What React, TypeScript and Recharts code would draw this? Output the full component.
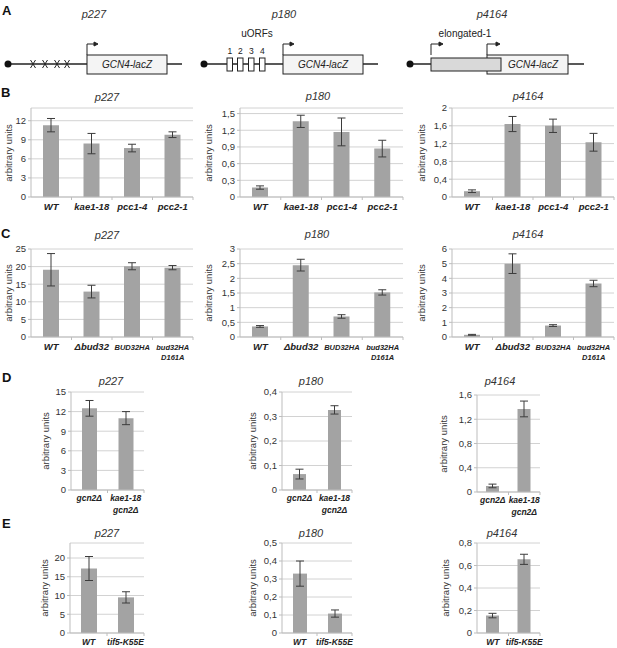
import React from "react";
import { BarChart, Bar, XAxis, YAxis, CartesianGrid, ErrorBar } from "recharts";

const FONT = "'Liberation Sans', Arial, Helvetica, sans-serif";

// categories
const catsB = ["WT", "kae1-18", "pcc1-4", "pcc2-1"];
const catsC = ["WT", "\u0394bud32", "BUD32HA", "bud32HA\nD161A"];
const catsD = ["gcn2\u0394", "kae1-18\ngcn2\u0394"];
const catsE = ["WT", "tif5-K55E"];

// row B
const b227 = [11.3, 8.4, 7.7, 9.8];
const b227Err = [1.05, 1.6, 0.6, 0.45];
const b180 = [0.17, 1.36, 1.17, 0.87];
const b180Err = [0.03, 0.11, 0.25, 0.15];
const b4164 = [0.13, 1.64, 1.6, 1.23];
const b4164Err = [0.03, 0.17, 0.15, 0.2];

// row C
const c227 = [19.1, 12.9, 20.1, 19.7];
const c227Err = [4.6, 1.8, 1.0, 0.6];
const c180 = [0.36, 2.45, 0.7, 1.52];
const c180Err = [0.03, 0.2, 0.06, 0.09];
const c4164 = [0.15, 5.0, 0.78, 3.65];
const c4164Err = [0.03, 0.67, 0.06, 0.22];

// row D
const d227 = [12.5, 11.0];
const d227Err = [1.2, 1.0];
const d180 = [0.065, 0.327];
const d180Err = [0.02, 0.017];
const d4164 = [0.1, 1.37];
const d4164Err = [0.03, 0.13];

// row E
const e227 = [17.2, 9.5];
const e227Err = [3.2, 1.5];
const e180 = [0.33, 0.108];
const e180Err = [0.07, 0.02];
const e4164 = [0.155, 0.655];
const e4164Err = [0.02, 0.045];

// y ticks
const ticksB227 = [0, 3, 6, 9, 12];
const ticksB180 = [0, 0.3, 0.6, 0.9, 1.2, 1.5];
const ticksB4164 = [0, 0.4, 0.8, 1.2, 1.6, 2];
const ticksC227 = [0, 5, 10, 15, 20, 25];
const ticksC180 = [0, 0.5, 1, 1.5, 2, 2.5, 3];
const ticksC4164 = [0, 1, 2, 3, 4, 5, 6];
const ticksD227 = [0, 3, 6, 9, 12, 15];
const ticksD180 = [0, 0.1, 0.2, 0.3, 0.4];
const ticksD4164 = [0, 0.4, 0.8, 1.2, 1.6];
const ticksE227 = [0, 5, 10, 15, 20];
const ticksE180 = [0, 0.1, 0.2, 0.3, 0.4, 0.5];
const ticksE4164 = [0, 0.2, 0.4, 0.6, 0.8];

const AXW = 40;
const MT = 6;
const MR = 6;
const XH = 36;

const fmt = (v: number) => String(v).replace(".", ",");

interface MiniProps {
  cats: string[];
  values: number[];
  errors: number[];
  max: number;
  ticks: number[];
  x0: number;
  x1: number;
  y0: number;
  y1: number;
  barSize: number;
  title: string;
  titleX: number;
  titleY: number;
  labelX: number;
  labelDy: number;
  lineGap: number;
  catFont: number;
  longFont?: number;
}

function MiniBar(p: MiniProps) {
  const plotW = p.x1 - p.x0;
  const plotH = p.y1 - p.y0;
  const data = p.cats.map((c, i) => ({ cat: c, v: p.values[i], err: p.errors[i] }));
  const band = plotW / p.cats.length;
  const axisY = MT + plotH;

  const Tick = (props: any) => {
    const { x, payload } = props;
    const lines = String(payload.value).split("\n");
    const size = p.longFont && lines[0].length > 6 ? p.longFont : p.catFont;
    return (
      <g>
        <line x1={x + band / 2} x2={x + band / 2} y1={axisY} y2={axisY + 3} stroke="#bdbdbd" />
        <text
          x={x}
          y={axisY + p.labelDy}
          textAnchor="middle"
          fontSize={size}
          fontWeight="bold"
          fontStyle="italic"
          fill="#222"
          fontFamily={FONT}
        >
          {lines.map((l, i) => (
            <tspan key={i} x={x} dy={i === 0 ? 0 : p.lineGap}>
              {l}
            </tspan>
          ))}
        </text>
      </g>
    );
  };

  return (
    <>
      <div
        style={{
          position: "absolute",
          left: p.titleX,
          top: p.titleY,
          transform: "translate(-50%, -50%)",
          fontSize: 11,
          fontStyle: "italic",
          color: "#333",
          whiteSpace: "nowrap",
        }}
      >
        {p.title}
      </div>
      <div
        style={{
          position: "absolute",
          left: p.labelX,
          top: (p.y0 + p.y1) / 2,
          transform: "translate(-50%, -50%) rotate(-90deg)",
          fontSize: 9.5,
          color: "#333",
          whiteSpace: "nowrap",
        }}
      >
        arbitrary units
      </div>
      <div style={{ position: "absolute", left: p.x0 - AXW, top: p.y0 - MT }}>
        <BarChart
          width={AXW + plotW + MR}
          height={MT + plotH + XH}
          data={data}
          margin={{ top: MT, right: MR, left: 0, bottom: 0 }}
        >
          <CartesianGrid vertical={false} stroke="#d2d2d2" />
          <XAxis
            dataKey="cat"
            interval={0}
            height={XH}
            tickLine={false}
            axisLine={{ stroke: "#bdbdbd" }}
            tick={<Tick />}
          />
          <YAxis
            width={AXW}
            domain={[0, p.max]}
            ticks={p.ticks}
            interval={0}
            allowDataOverflow
            tickFormatter={fmt}
            tick={{ fontSize: 9.5, fill: "#333", fontFamily: FONT }}
            tickLine={{ stroke: "#bdbdbd" }}
            tickSize={3}
            tickMargin={2}
            axisLine={{ stroke: "#bdbdbd" }}
          />
          <Bar dataKey="v" fill="#a3a3a3" barSize={p.barSize} isAnimationActive={false}>
            <ErrorBar dataKey="err" width={4} stroke="#3c3c3c" strokeWidth={1} isAnimationActive={false} />
          </Bar>
        </BarChart>
      </div>
    </>
  );
}

function Letter({ ch, x, y }: { ch: string; x: number; y: number }) {
  return (
    <div
      style={{
        position: "absolute",
        left: x,
        top: y,
        fontSize: 13,
        fontWeight: "bold",
        color: "#111",
        lineHeight: "13px",
      }}
    >
      {ch}
    </div>
  );
}

function Arrow({ x, w }: { x: number; w: number }) {
  return (
    <g stroke="#222" fill="none" strokeWidth={1}>
      <polyline points={`${x},55 ${x},44 ${x + w},44`} />
      <polygon points={`${x + w + 3},44 ${x + w - 1},42 ${x + w - 1},46`} fill="#222" />
    </g>
  );
}

function Constructs() {
  const xs = [33, 45, 57, 67];
  const orfs = [227, 237.5, 248.5, 259.5];
  return (
    <svg width={617} height={80} style={{ position: "absolute", left: 0, top: 0 }} fontFamily={FONT}>
      {/* p227 */}
      <text x={94} y={18} fontSize={11} fontStyle="italic" textAnchor="middle" fill="#333">p227</text>
      <line x1={8} x2={182} y1={64} y2={64} stroke="#222" strokeWidth={1.5} />
      <circle cx={8} cy={64} r={3.5} fill="#111" />
      {xs.map((x, i) => (
        <g key={i} stroke="#222" strokeWidth={1}>
          <line x1={x - 2.5} x2={x + 2.5} y1={60} y2={68} />
          <line x1={x - 2.5} x2={x + 2.5} y1={68} y2={60} />
        </g>
      ))}
      <rect x={87} y={55} width={80} height={19} fill="#f4f4f4" stroke="#222" />
      <text x={127} y={68} fontSize={10} fontStyle="italic" textAnchor="middle" fill="#222">GCN4-lacZ</text>
      <Arrow x={87} w={8} />

      {/* p180 */}
      <text x={284} y={18} fontSize={11} fontStyle="italic" textAnchor="middle" fill="#333">p180</text>
      <text x={257} y={37} fontSize={10} textAnchor="middle" fill="#222">uORFs</text>
      <line x1={204} x2={378} y1={64} y2={64} stroke="#222" strokeWidth={1.5} />
      <circle cx={204} cy={64} r={3.5} fill="#111" />
      {orfs.map((x, i) => (
        <g key={i}>
          <rect x={x} y={58} width={5.5} height={13} fill="#fff" stroke="#222" />
          <text x={x + 2.75} y={54} fontSize={8.5} textAnchor="middle" fill="#222">{i + 1}</text>
        </g>
      ))}
      <rect x={283} y={55} width={80} height={19} fill="#f4f4f4" stroke="#222" />
      <text x={323} y={68} fontSize={10} fontStyle="italic" textAnchor="middle" fill="#222">GCN4-lacZ</text>
      <Arrow x={283} w={8} />

      {/* p4164 */}
      <text x={492} y={18} fontSize={11} fontStyle="italic" textAnchor="middle" fill="#333">p4164</text>
      <text x={465} y={37} fontSize={10} textAnchor="middle" fill="#222">elongated-1</text>
      <line x1={410} x2={584} y1={64} y2={64} stroke="#222" strokeWidth={1.5} />
      <circle cx={410} cy={64} r={3.5} fill="#111" />
      <rect x={487} y={55} width={81} height={19} fill="#f4f4f4" stroke="#222" />
      <rect x={431} y={58} width={70} height={13} fill="#d9d9d9" stroke="#222" />
      <text x={533} y={68} fontSize={10} fontStyle="italic" textAnchor="middle" fill="#222">GCN4-lacZ</text>
      <Arrow x={431} w={9} />
      <Arrow x={487} w={10} />
    </svg>
  );
}

export default function App() {
  const rowB = { y0: 108, y1: 197, labelDy: 13, lineGap: 10.5, catFont: 9.5 };
  const rowC = { y0: 249, y1: 337, labelDy: 13, lineGap: 10, catFont: 9.5, longFont: 7.5 };
  const rowD = { y0: 392, y1: 490, labelDy: 11, lineGap: 12, catFont: 8.5 };
  const rowE = { y0: 543, y1: 633, labelDy: 12, lineGap: 12, catFont: 8.5 };
  return (
    <div
      style={{
        position: "absolute",
        left: 0,
        top: 0,
        width: 617,
        height: 648,
        background: "#fff",
        fontFamily: FONT,
        overflow: "hidden",
      }}
    >
      <Constructs />
      <Letter ch="A" x={2} y={4} />
      <Letter ch="B" x={1} y={86} />
      <Letter ch="C" x={1} y={227} />
      <Letter ch="D" x={2} y={371} />
      <Letter ch="E" x={2} y={517} />

      <MiniBar cats={catsB} values={b227} errors={b227Err} max={14} ticks={ticksB227}
        x0={31} x1={193} {...rowB} barSize={16} title="p227" titleX={107} titleY={97} labelX={8} />
      <MiniBar cats={catsB} values={b180} errors={b180Err} max={1.6} ticks={ticksB180}
        x0={240} x1={403} {...rowB} barSize={16} title="p180" titleX={318} titleY={96} labelX={208} />
      <MiniBar cats={catsB} values={b4164} errors={b4164Err} max={2} ticks={ticksB4164}
        x0={452} x1={614} {...rowB} barSize={16} title="p4164" titleX={528} titleY={96} labelX={421} />

      <MiniBar cats={catsC} values={c227} errors={c227Err} max={25} ticks={ticksC227}
        x0={31} x1={193} {...rowC} barSize={16} title="p227" titleX={107} titleY={235} labelX={8} />
      <MiniBar cats={catsC} values={c180} errors={c180Err} max={3} ticks={ticksC180}
        x0={240} x1={403} {...rowC} barSize={16} title="p180" titleX={317} titleY={234} labelX={208} />
      <MiniBar cats={catsC} values={c4164} errors={c4164Err} max={6} ticks={ticksC4164}
        x0={452} x1={614} {...rowC} barSize={16} title="p4164" titleX={528} titleY={234} labelX={421} />

      <MiniBar cats={catsD} values={d227} errors={d227Err} max={15} ticks={ticksD227}
        x0={71} x1={144} {...rowD} barSize={15} title="p227" titleX={111} titleY={381} labelX={45} />
      <MiniBar cats={catsD} values={d180} errors={d180Err} max={0.4} ticks={ticksD180}
        x0={282} x1={352} {...rowD} barSize={13} title="p180" titleX={311} titleY={381} labelX={252} />
      <MiniBar cats={catsD} values={d4164} errors={d4164Err} max={1.6} ticks={ticksD4164}
        x0={477} x1={540} {...rowD} y0={395} y1={492} barSize={13} title="p4164" titleX={500} titleY={381} labelX={443} />

      <MiniBar cats={catsE} values={e227} errors={e227Err} max={24} ticks={ticksE227}
        x0={70} x1={144} {...rowE} barSize={16} title="p227" titleX={107} titleY={533} labelX={44} />
      <MiniBar cats={catsE} values={e180} errors={e180Err} max={0.5} ticks={ticksE180}
        x0={282} x1={352} {...rowE} barSize={14} title="p180" titleX={311} titleY={533} labelX={252} />
      <MiniBar cats={catsE} values={e4164} errors={e4164Err} max={0.8} ticks={ticksE4164}
        x0={477} x1={540} {...rowE} barSize={13} title="p4164" titleX={502} titleY={533} labelX={445} />
    </div>
  );
}
